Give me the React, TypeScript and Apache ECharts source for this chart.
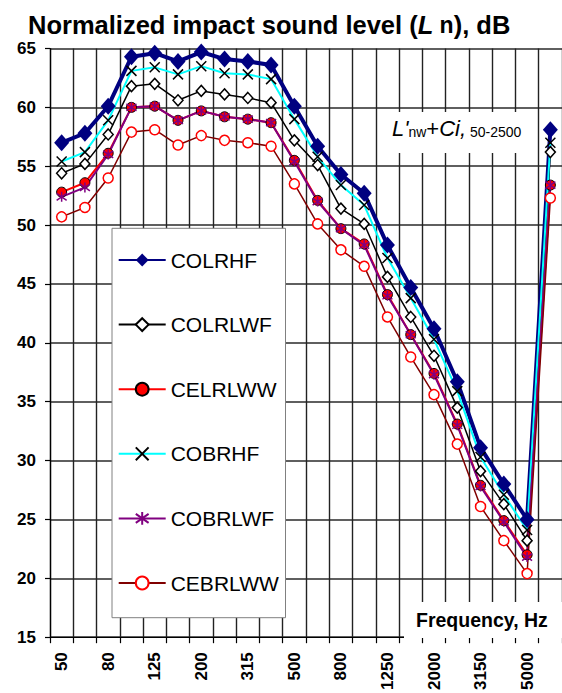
import React, { useEffect, useRef } from 'react';
import * as echarts from 'echarts';

const categories = ['50', '63', '80', '100', '125', '160', '200', '250', '315', '400', '500', '630', '800', '1000', '1250', '1600', '2000', '2500', '3150', '4000', '5000', ''];

const colrhf = [57.0, 57.8, 60.1, 64.3, 64.6, 63.9, 64.7, 64.1, 63.9, 63.6, 60.1, 56.7, 54.3, 52.7, 48.3, 44.7, 41.2, 36.7, 31.1, 28.0, 25.0, 58.1];
const colrlwf = [54.4, 55.2, 57.7, 61.8, 62.0, 60.6, 61.4, 61.1, 60.8, 60.4, 57.2, 55.1, 51.4, 50.1, 45.6, 42.2, 38.9, 34.5, 29.1, 26.3, 23.2, 56.2];
const celrlww = [52.8, 53.6, 56.1, 60.0, 60.1, 58.9, 59.7, 59.2, 59.0, 58.7, 55.5, 52.1, 49.7, 48.4, 44.1, 40.7, 37.4, 33.1, 27.9, 24.9, 22.0, 53.4];
const cobrhf = [55.4, 56.2, 58.9, 63.1, 63.4, 62.8, 63.5, 62.9, 62.8, 62.4, 59.0, 55.8, 53.4, 51.7, 47.2, 43.8, 40.3, 35.9, 30.3, 27.1, 24.1, 57.0];
const cobrlwf = [52.4, 53.2, 56.0, 60.0, 60.1, 58.9, 59.7, 59.2, 59.0, 58.7, 55.4, 52.0, 49.7, 48.3, 44.0, 40.7, 37.3, 33.0, 27.8, 24.8, 21.8, 53.4];
const cebrlww = [50.7, 51.5, 54.0, 57.9, 58.1, 56.8, 57.6, 57.2, 57.0, 56.7, 53.5, 50.1, 47.9, 46.5, 42.2, 38.8, 35.6, 31.4, 26.1, 23.2, 20.4, 52.3];

const seriesNames = ['COLRHF', 'COLRLWF', 'CELRLWW', 'COBRHF', 'COBRLWF', 'CEBRLWW'];

const FONT = '"Liberation Sans", Arial, sans-serif';

export default function App() {
  const ref = useRef<HTMLDivElement>(null);

  useEffect(() => {
    const chart = echarts.init(ref.current!, undefined, { renderer: 'svg' });
    const option: any = {
      animation: false,
      backgroundColor: '#fff',
      title: {
        text: '{n|Normalized impact sound level (}{i|L}{s| n}{n|), dB}',
        left: 28,
        top: 12,
        padding: 0,
        textStyle: {
          rich: {
            n: { fontFamily: FONT, fontSize: 25.5, fontWeight: 'bold', color: '#000' },
            i: { fontFamily: FONT, fontSize: 25.5, fontWeight: 'bold', fontStyle: 'italic', color: '#000' },
            s: { fontFamily: FONT, fontSize: 23, fontWeight: 'bold', color: '#000' },
          },
        },
      },
      grid: { left: 50, right: -1.3, top: 48.5, bottom: 49 },
      xAxis: {
        type: 'category',
        data: categories,
        boundaryGap: true,
        axisLine: { show: true, lineStyle: { color: '#000', width: 1.2 } },
        axisTick: { show: true, interval: 0, length: 6, lineStyle: { color: '#000', width: 1.2 } },
        axisLabel: {
          interval: 1,
          rotate: 90,
          margin: 15,
          fontFamily: FONT,
          fontSize: 17,
          fontWeight: 'bold',
          color: '#000',
        },
        splitLine: { show: true, interval: 0, lineStyle: { color: '#222', width: 1.4 } },
      },
      yAxis: {
        type: 'value',
        min: 15,
        max: 65,
        interval: 5,
        axisLine: { show: true, lineStyle: { color: '#000', width: 1.2 } },
        axisTick: { show: true, length: 5, lineStyle: { color: '#000', width: 1.2 } },
        axisLabel: { margin: 14, fontFamily: FONT, fontSize: 17, fontWeight: 'bold', color: '#000' },
        splitLine: { show: true, lineStyle: { color: '#2a2a2a', width: 1.6 } },
      },
      legend: {
        orient: 'vertical',
        left: 112,
        top: 228,
        padding: [21.5, 8, 24, 5.7],
        itemWidth: 47,
        itemHeight: 16,
        itemGap: 43.6,
        textStyle: { fontFamily: FONT, fontSize: 21, color: '#000', lineHeight: 21 },
        data: seriesNames,
      },
      graphic: [
        { type: 'rect', z: 1, shape: { x: 112, y: 228.3, width: 173.5, height: 389.4 }, style: { fill: '#fff', stroke: '#808080', lineWidth: 1 } },
        { type: 'rect', z: 1, shape: { x: 386, y: 112, width: 150, height: 41 }, style: { fill: '#fff' } },
        { type: 'rect', z: 1, shape: { x: 404, y: 602, width: 170, height: 36 }, style: { fill: '#fff' } },
        {
          type: 'text',
          z: 5,
          x: 392,
          y: 113,
          style: {
            text: "{a|L'}{b|nw}{c|+}{a|Ci,}{b| 50-2500}",
            rich: {
              a: { fontFamily: FONT, fontSize: 22, fontStyle: 'italic', fill: '#000', lineHeight: 26, verticalAlign: 'bottom' },
              c: { fontFamily: FONT, fontSize: 22, fill: '#000', lineHeight: 26, verticalAlign: 'bottom' },
              b: { fontFamily: FONT, fontSize: 14, fill: '#000', lineHeight: 14, verticalAlign: 'bottom' },
            },
          },
        },
        {
          type: 'text',
          z: 5,
          x: 416,
          y: 620,
          style: {
            text: 'Frequency, Hz',
            fontFamily: FONT,
            fontSize: 19.5,
            fontWeight: 'bold',
            fill: '#000',
            verticalAlign: 'middle',
          },
        },
      ],
      series: [
        {
          name: 'COLRHF',
          type: 'line',
          data: colrhf,
          symbol: 'diamond',
          symbolSize: [15, 17],
          showAllSymbol: true,
          lineStyle: { color: '#000080', width: 4 },
          itemStyle: { color: '#000080', borderColor: '#000080', borderWidth: 0 },
        },
        {
          name: 'COLRLWF',
          type: 'line',
          data: colrlwf,
          symbol: 'diamond',
          symbolSize: [10, 11],
          showAllSymbol: true,
          lineStyle: { color: '#000', width: 1.5 },
          itemStyle: { color: '#fff', borderColor: '#000', borderWidth: 1.5 },
        },
        {
          name: 'CELRLWW',
          type: 'line',
          data: celrlww,
          symbol: 'circle',
          symbolSize: 10,
          showAllSymbol: true,
          lineStyle: { color: '#ff0000', width: 2 },
          itemStyle: { color: '#ff0000', borderColor: '#000', borderWidth: 1 },
        },
        {
          name: 'COBRHF',
          type: 'line',
          data: cobrhf,
          symbol: 'path://M0,0L10,10M10,0L0,10',
          symbolSize: 10,
          showAllSymbol: true,
          lineStyle: { color: '#00ffff', width: 2 },
          itemStyle: { color: '#000', borderColor: '#000', borderWidth: 1.5 },
        },
        {
          name: 'COBRLWF',
          type: 'line',
          data: cobrlwf,
          symbol: 'path://M5,0L5,10M0,1.5L10,8.5M10,1.5L0,8.5',
          symbolSize: 10,
          showAllSymbol: true,
          lineStyle: { color: '#800080', width: 2 },
          itemStyle: { color: '#800080', borderColor: '#800080', borderWidth: 1.5 },
        },
        {
          name: 'CEBRLWW',
          type: 'line',
          data: cebrlww,
          symbol: 'circle',
          symbolSize: 10,
          showAllSymbol: true,
          lineStyle: { color: '#800000', width: 1.5 },
          itemStyle: { color: '#fff', borderColor: '#ff0000', borderWidth: 1.5 },
        },
      ],
    };
    chart.setOption(option);
    return () => chart.dispose();
  }, []);

  return <div ref={ref} style={{ position: 'absolute', left: 0, top: 0, width: 562, height: 693, overflow: 'hidden' }} />;
}
